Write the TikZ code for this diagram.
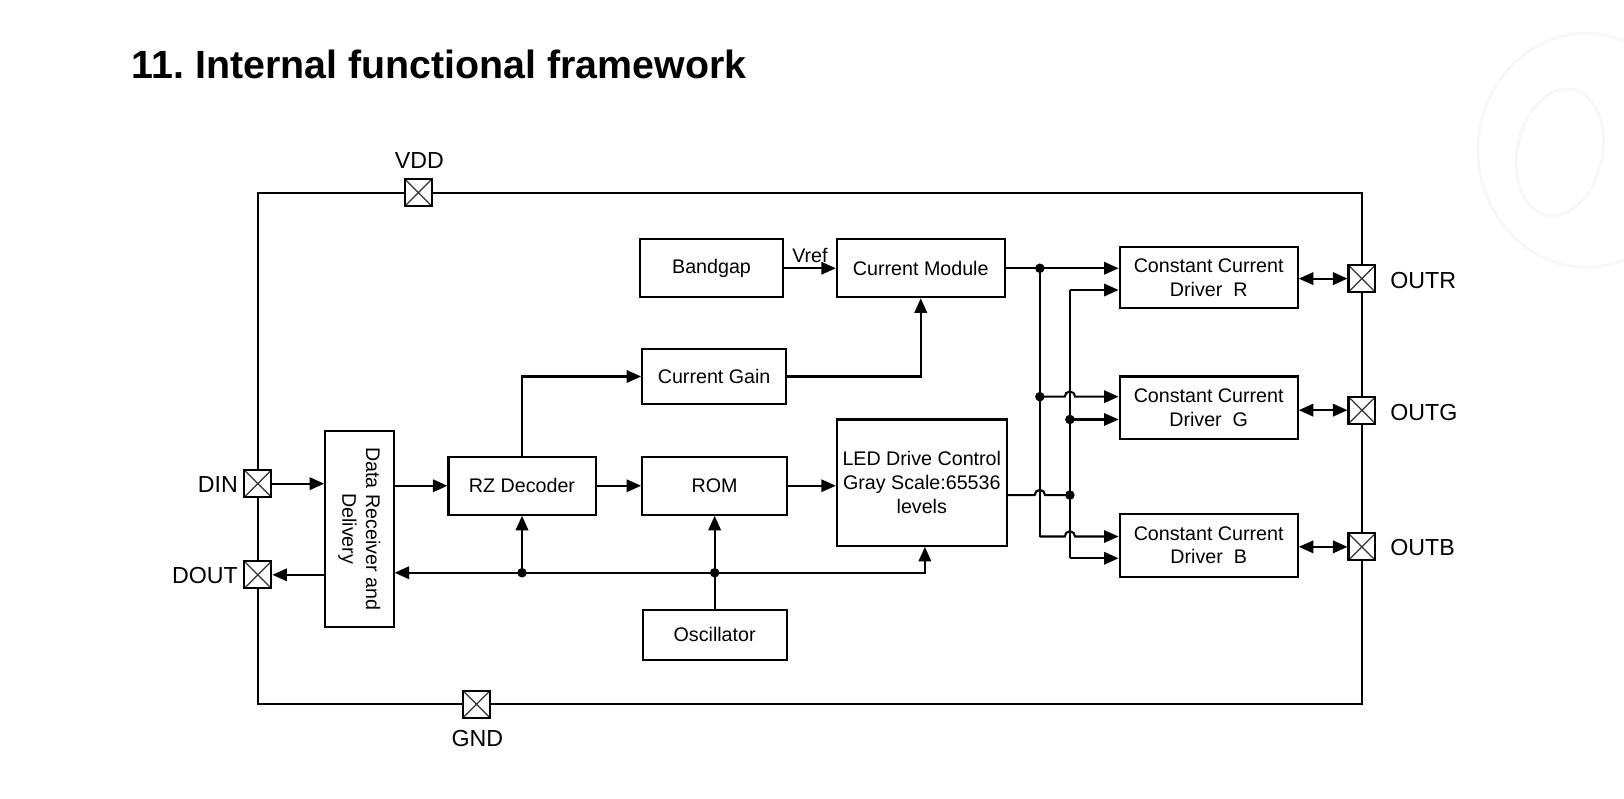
\documentclass[tikz,border=0pt]{standalone}
\usepackage{fontspec}
\setmainfont{Liberation Sans}
\usetikzlibrary{arrows.meta,calc}
\begin{document}
\begin{tikzpicture}[x=0.5pt,y=-0.5pt,
  wire/.style={line width=1pt},
  arr/.style={wire,-{Triangle[length=7pt,width=6pt]}},
  darr/.style={wire,{Triangle[length=7pt,width=6pt]}-{Triangle[length=7pt,width=6pt]}},
  blk/.style={draw,line width=1pt,inner sep=0pt,align=center,font=\fontsize{9.5}{11.5}\selectfont},
  pad/.style={draw,fill=white,line width=1pt,minimum size=13pt,inner sep=0pt,
    path picture={\draw[line width=0.6pt,black!80] (path picture bounding box.south west)--(path picture bounding box.north east) (path picture bounding box.north west)--(path picture bounding box.south east);}},
  plabel/.style={font=\fontsize{11.2}{13}\selectfont,inner sep=0pt},
  dot/.style={circle,fill=black,inner sep=0pt,minimum size=4.6pt},
  wmark/.style={draw=black!3,line width=1.4pt},
]
\useasboundingbox (0,0) rectangle (1568,771.4);
% faint watermark
\draw[wmark,rotate around={-12:(1506,147)}] (1506,147) ellipse [x radius=41, y radius=62];
\draw[wmark] (1532,145) ellipse [x radius=105, y radius=113];

% title
\node[anchor=base west,inner sep=0pt,font=\fontsize{19}{22}\selectfont\bfseries] (title) at (127,76) {11.\ Internal functional framework};

% outer frame
\draw[wire] (249,186) rectangle (1315,680);

% blocks
\node[blk,minimum width=33pt,minimum height=94.5pt] (drd) at (347,510.5) {};
\node[rotate=-90,align=center,inner sep=0pt,font=\fontsize{9.5}{11.5}\selectfont] (drdt) at (drd.center) {Data Receiver and\\Delivery};
\node[blk,minimum width=71pt,minimum height=28pt] (rz) at (504,469) {RZ Decoder};
\node[blk,minimum width=70pt,minimum height=28pt] (rom) at (690,469) {ROM};
\node[blk,minimum width=82pt,minimum height=61pt] (led) at (890,466) {LED Drive Control\\Gray Scale:65536\\levels};
\node[blk,minimum width=69.5pt,minimum height=26.5pt] (cg) at (689.5,363.5) {Current Gain};
\node[blk,minimum width=69pt,minimum height=28pt] (bg) at (687,259) {Bandgap};
\node[blk,minimum width=81pt,minimum height=28pt] (cm) at (889,259) {Current Module};
\node[blk,minimum width=69.5pt,minimum height=24pt] (osc) at (690,613) {Oscillator};
\node[blk,minimum width=86pt,minimum height=29.5pt] (dr) at (1167,268) {Constant Current\\Driver~~R};
\node[blk,minimum width=86pt,minimum height=30pt] (dg) at (1167,393.5) {Constant Current\\Driver~~G};
\node[blk,minimum width=86pt,minimum height=30.5pt] (db) at (1167,526.5) {Constant Current\\Driver~~B};

% pads
\node[pad] (vdd) at (404,186) {};
\node[pad] (gnd) at (460,680) {};
\node[pad] (din) at (249,467) {};
\node[pad] (dout) at (249,555) {};
\node[pad] (outr) at (1315,269) {};
\node[pad] (outg) at (1315,396) {};
\node[pad] (outb) at (1315,528) {};
\node[plabel] (lvdd) at (405,155) {VDD};
\node[plabel] (lgnd) at (461,713) {GND};
\node[plabel,anchor=east] (ldin) at (230,468) {DIN};
\node[plabel,anchor=east] (ldout) at (230,556) {DOUT};
\node[plabel,anchor=west] (loutr) at (1342,271) {OUTR};
\node[plabel,anchor=west] (loutg) at (1342,398) {OUTG};
\node[plabel,anchor=west] (loutb) at (1342,529) {OUTB};

% left side data path
\draw[arr] (din.east) -- (din.east -| drd.west);
\draw[arr] (drd.west |- dout) -- (dout.east);
\draw[arr] (drd.east |- rz.west) -- (rz.west);
\draw[arr] (rz.east) -- (rom.west);
\draw[arr] (rom.east) -- (rom.east -| led.west);
\draw[arr] (rz.north) |- (cg.west);
\draw[arr] (cg.east) -| (cm.south);
\draw[arr] (bg.east) -- (cm.west) node[midway,above=2pt,font=\fontsize{9.5}{11.5}\selectfont,inner sep=0pt] (vref) {Vref};

% clock bus
\coordinate (b1) at (504,553);
\coordinate (b2) at (690,553);
\draw[arr] (b1) -- (b1 -| drd.east);
\draw[wire] (b1) -- (b2);
\draw[arr] (b2) -| ($(led.south)+(3,0)$);
\draw[arr] (b1) -- (rz.south);
\draw[arr] (osc.north) -- (rom.south);
\node[dot] at (b1) {};
\node[dot] at (b2) {};

% right side distribution
\coordinate (jr) at (1004,259);
\coordinate (jg) at (1004,383);
\coordinate (jb) at (1004,518);
\coordinate (kr) at (1033,280);
\coordinate (kg) at (1033,405);
\coordinate (kl) at (1033,478);
\coordinate (kb) at (1033,539);
\draw[arr] (cm.east) -- (cm.east -| dr.west);
\draw[wire] (jr) -- (jb);
\draw[arr] (jg) -- ++(24,0) arc (180:360:5) -- (jg -| dg.west);
\draw[arr] (jb) -- ++(24,0) arc (180:360:5) -- (jb -| db.west);
\draw[wire] (kr) -- (kb);
\draw[arr] (kr) -- (kr -| dr.west);
\draw[arr] (kg) -- (kg -| dg.west);
\draw[arr] (kb) -- (kb -| db.west);
\draw[wire] (led.east |- kl) -- (999,478) arc (180:360:5) -- (kl);
\node[dot] at (jr) {};
\node[dot] at (jg) {};
\node[dot] at (kg) {};
\node[dot] at (kl) {};

% driver <-> pad
\draw[darr] (dr.east |- outr) -- (outr.west);
\draw[darr] (dg.east |- outg) -- (outg.west);
\draw[darr] (db.east |- outb) -- (outb.west);
\end{tikzpicture}
\end{document}
